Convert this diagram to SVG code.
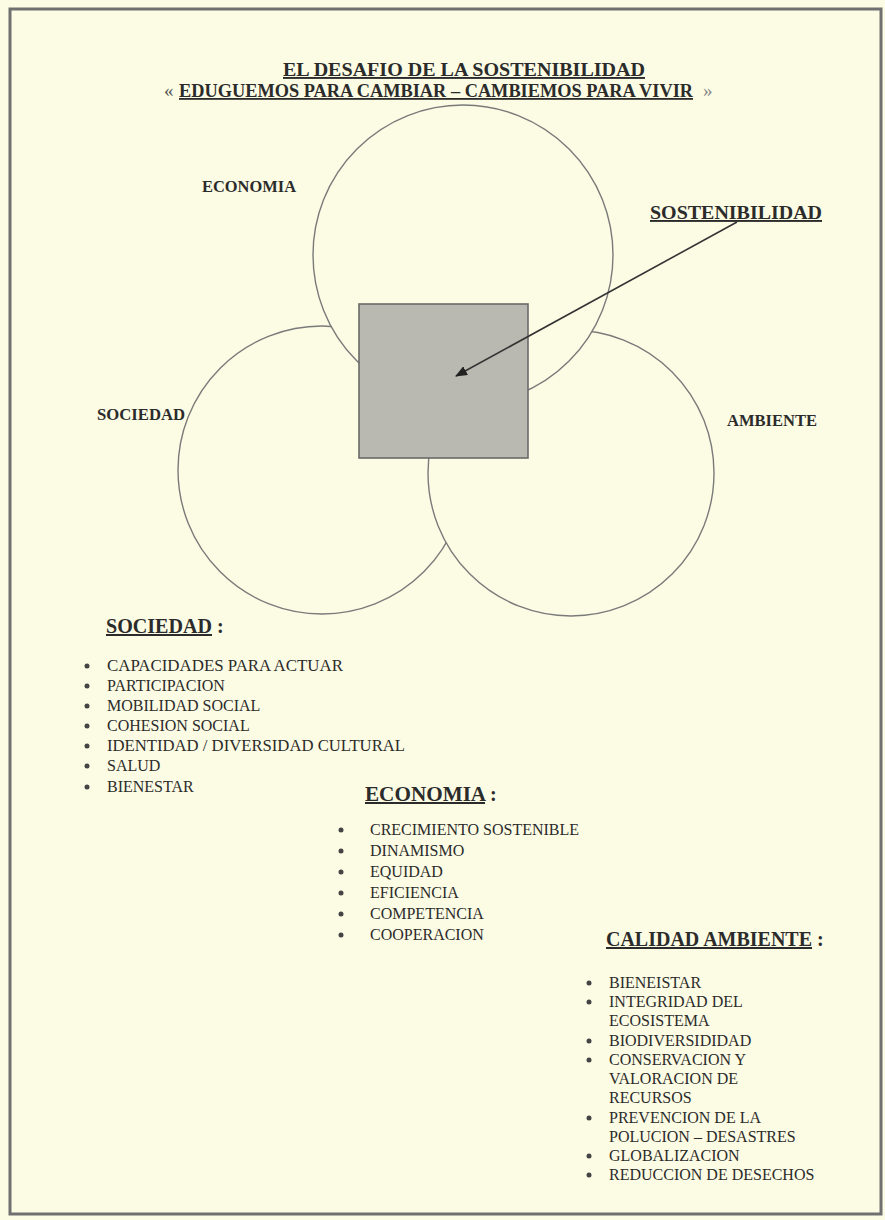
<svg xmlns="http://www.w3.org/2000/svg" width="885" height="1220" viewBox="0 0 885 1220">
<style>
.bg{fill:#fcfbe4}
.frame{fill:none;stroke:#707070;stroke-width:3}
.circ{fill:#fcfbe4;stroke:#7a7a7a;stroke-width:1.4}
.sq{fill:#b9b9b1;stroke:#6a6a6a;stroke-width:1.6}
.t{font-family:"Liberation Serif","Times New Roman",serif;fill:#2b2b2b}
.b{font-weight:bold}
.u{text-decoration:underline}
.title{font-size:19px}
.lbl{font-size:16px}
.hd{font-size:20px}
.it{font-size:16px}
.dot{fill:#444}
.arrow{stroke:#333;stroke-width:1.6;fill:none}
</style>
<defs>
<marker id="ah" markerWidth="12" markerHeight="10" refX="11" refY="5" orient="auto" markerUnits="userSpaceOnUse">
<path d="M0,0 L12,5 L0,10 Z" fill="#222"/>
</marker>
</defs>
<rect class="bg" x="0" y="0" width="885" height="1220"/>
<rect class="frame" x="10" y="9" width="871" height="1205"/>

<g id="title">
<text class="t b title u" x="283" y="76" textLength="362" lengthAdjust="spacingAndGlyphs">EL DESAFIO DE LA SOSTENIBILIDAD</text>
<text class="t title" x="164" y="97" style="fill:#555">«</text>
<text class="t b u" font-size="18" x="179" y="97" textLength="514" lengthAdjust="spacingAndGlyphs">EDUGUEMOS PARA CAMBIAR – CAMBIEMOS PARA VIVIR</text>
<text class="t title" x="703" y="97" style="fill:#888">»</text>
</g>

<g id="circle-sociedad"><circle class="circ" cx="322" cy="470" r="144"/></g>
<g id="circle-ambiente"><circle class="circ" cx="571" cy="473" r="143"/></g>
<g id="circle-economia"><circle class="circ" cx="463" cy="255" r="150"/></g>
<g id="sostenibilidad-square"><rect class="sq" x="359" y="304" width="169" height="154"/></g>

<g id="connectors">
<line class="arrow" x1="737" y1="222" x2="456" y2="376" marker-end="url(#ah)"/>
</g>

<g id="label-economia"><text class="t b lbl" x="202" y="192" textLength="94" lengthAdjust="spacingAndGlyphs">ECONOMIA</text></g>
<g id="label-sostenibilidad"><text class="t b u" font-size="19" x="650" y="219" textLength="172" lengthAdjust="spacingAndGlyphs">SOSTENIBILIDAD</text></g>
<g id="label-sociedad"><text class="t b lbl" x="97" y="420" textLength="88" lengthAdjust="spacingAndGlyphs">SOCIEDAD</text></g>
<g id="label-ambiente"><text class="t b lbl" x="727" y="426" textLength="90" lengthAdjust="spacingAndGlyphs">AMBIENTE</text></g>

<g id="list-sociedad">
<text class="t b hd" x="106" y="633"><tspan class="u" textLength="106" lengthAdjust="spacingAndGlyphs">SOCIEDAD</tspan> :</text>
<circle class="dot" cx="87" cy="666" r="2.5"/><text class="t it" x="107" y="671" textLength="236" lengthAdjust="spacingAndGlyphs">CAPACIDADES PARA ACTUAR</text>
<circle class="dot" cx="87" cy="686" r="2.5"/><text class="t it" x="107" y="691">PARTICIPACION</text>
<circle class="dot" cx="87" cy="706" r="2.5"/><text class="t it" x="107" y="711">MOBILIDAD SOCIAL</text>
<circle class="dot" cx="87" cy="726" r="2.5"/><text class="t it" x="107" y="731">COHESION SOCIAL</text>
<circle class="dot" cx="87" cy="746" r="2.5"/><text class="t it" x="107" y="751" textLength="298" lengthAdjust="spacingAndGlyphs">IDENTIDAD / DIVERSIDAD CULTURAL</text>
<circle class="dot" cx="87" cy="766" r="2.5"/><text class="t it" x="107" y="771">SALUD</text>
<circle class="dot" cx="87" cy="787" r="2.5"/><text class="t it" x="107" y="792">BIENESTAR</text>
</g>

<g id="list-economia">
<text class="t b hd" x="365" y="801"><tspan class="u" textLength="120" lengthAdjust="spacingAndGlyphs">ECONOMIA</tspan> :</text>
<circle class="dot" cx="341" cy="830" r="2.5"/><text class="t it" x="370" y="835">CRECIMIENTO SOSTENIBLE</text>
<circle class="dot" cx="341" cy="851" r="2.5"/><text class="t it" x="370" y="856">DINAMISMO</text>
<circle class="dot" cx="341" cy="872" r="2.5"/><text class="t it" x="370" y="877">EQUIDAD</text>
<circle class="dot" cx="341" cy="893" r="2.5"/><text class="t it" x="370" y="898">EFICIENCIA</text>
<circle class="dot" cx="341" cy="914" r="2.5"/><text class="t it" x="370" y="919">COMPETENCIA</text>
<circle class="dot" cx="341" cy="935" r="2.5"/><text class="t it" x="370" y="940">COOPERACION</text>
</g>

<g id="list-calidad-ambiente">
<text class="t b hd" x="606" y="946"><tspan class="u" textLength="206" lengthAdjust="spacingAndGlyphs">CALIDAD AMBIENTE</tspan> :</text>
<circle class="dot" cx="589" cy="983" r="2.5"/><text class="t it" x="609" y="988">BIENEISTAR</text>
<circle class="dot" cx="589" cy="1002" r="2.5"/><text class="t it" x="609" y="1007">INTEGRIDAD DEL</text>
<text class="t it" x="609" y="1026">ECOSISTEMA</text>
<circle class="dot" cx="589" cy="1041" r="2.5"/><text class="t it" x="609" y="1046">BIODIVERSIDIDAD</text>
<circle class="dot" cx="589" cy="1060" r="2.5"/><text class="t it" x="609" y="1065">CONSERVACION Y</text>
<text class="t it" x="609" y="1084">VALORACION DE</text>
<text class="t it" x="609" y="1103">RECURSOS</text>
<circle class="dot" cx="589" cy="1118" r="2.5"/><text class="t it" x="609" y="1123">PREVENCION DE LA</text>
<text class="t it" x="609" y="1142">POLUCION – DESASTRES</text>
<circle class="dot" cx="589" cy="1156" r="2.5"/><text class="t it" x="609" y="1161">GLOBALIZACION</text>
<circle class="dot" cx="589" cy="1175" r="2.5"/><text class="t it" x="609" y="1180">REDUCCION DE DESECHOS</text>
</g>
</svg>
